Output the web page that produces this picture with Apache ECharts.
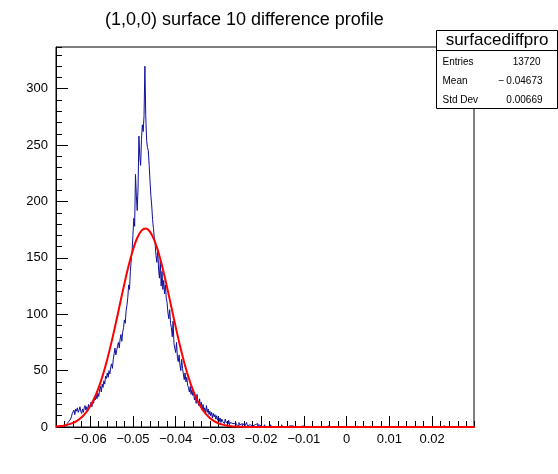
<!DOCTYPE html>
<html>
<head>
<meta charset="utf-8">
<script src="https://cdn.jsdelivr.net/npm/echarts@6/dist/echarts.min.js"></script>
<style>
  html, body { margin: 0; padding: 0; background: #fff; }
  #chart { width: 558px; height: 474px; }
</style>
</head>
<body>
<div id="chart"></div>
<script>
// ---------- DATA ----------
const chartTitle = '(1,0,0) surface 10 difference profile';
const histName = 'surfacediffpro';
const statLabels = ['Entries', 'Mean', 'Std Dev'];
const statValues = ['13720', '\u2212\u20090.04673', '0.00669'];

// histogram binning (bin width 0.0002, first bin low edge)
const binLow = -0.068;
const binWidth = 0.0002;

const countsLeft = [
  0,0,0,0,0,0,1,0,1,2,1,
  1,2,3,2,5,4,7,9,12,
  12,15,11,16,14,17,13,15,18,14,12,
  16,13,17,19,15,18,14,20,17,19,22,18,
  23,21,26,24,28,25,
  30,27,33,36,31,38,
  35,41,38,45,43,48,
  44,50,47,53,56,52,
  60,65,70,64,68,72,
  75,70,78,82,76,84,
  88,95,92,103,108,
  115,126,122,138,148,
  156,170,185,178,224,
  205,192,212
];
const countsPeak = [
  258,240,232,
  255,268,262,276,
  320,
  276,254,
  248,245,
  232,218,
  205,196,184,
  176,168,162
];
const countsRight = [
  152,146,158,140,
  132,148,125,138,
  122,130,118,126,114,
  110,101,96,104,92,
  88,80,94,74,
  70,66,75,62,
  58,64,55,50,60,52,
  47,42,48,40,44,37,
  35,31,36,29,33,28,
  30,24,27,21,29,22,19,25,
  18,22,15,20,14,17,12,19,13,16,11,14,
  10,13,8,12,9,11,7,10,
  6,9,5,8,4,7,5,6,3,7,
  4,5,3,6,2,4,5,3,4,2,3,5
];
const countsTail = [
  2,3,1,4,2,2,3,1,2,3,1,2,4,1,2,2,1,3,1,2,0,2,1,1,3,0,2,1,1,2,
  1,0,1,2,0,1,0,1,1,0,2,0,1,0,0,1,0,1,0,0,1,0,0,2,0,1,0,0,1,0,0,0,1,0,0,1,0,0,0,1,
  0,0,1,0,0,0,0,1,0,0,0,0,0,0,1,0,0,0,0,0,
  0,0,0,0,1,0,0,0,0,0,0,0,0,0,0,0,0,1,0,0,
  0,0,0,0,0,0,0,0,1,0,0,0,0,0,0,0,0,0,0,0,
  0,0,0,0,0,0,0,0,0,0,0,1,0,0,0,0,0,0,0,0,
  0,0,0,0,0,0,0,0,0,0,0,0,0,0,0,0,0,0,1,0,
  0,0,0,0,0,0,0,0,0,0,0,0,0,0,0,0,0,0,0,0,
  0,0,0,0,0,1,0,0,0,0,0,0,0,0,0,0,0,0,0,0,
  0,0,0,0,0,0,0,0,0,0,0,0,0,0,0,0,0,0,0,0,
  0,0,0,0,0,0,0,0,0,0,0,0,1,0,0,0,0,0,0,0,
  0,0,0,0,0,0,0,0,0,0,0,0,0,0,0,0,0,0,0,0,
  0,0,0,0,0,0,0,0
];

// gaussian fit curve, every 0.001
const fitLow = -0.068;
const fitStep = 0.001;
const fitValues = [
  0.5,0.8,1.4,2.3,3.7,5.7,8.7,12.8,18.4,25.7,
  35.1,46.6,60.1,75.5,92.2,109.7,127.1,143.2,157.0,167.6,
  174.1,176.0,173.1,165.8,154.5,140.1,123.7,106.2,88.8,72.3,
  57.2,44.1,33.1,24.1,17.1,11.8,8.0,5.2,3.3,2.1,
  1.3,0.7,0.4,0.2,0.1,0,0,0,0,0,
  0,0,0,0,0,0,0,0,0,0,
  0,0,0,0,0,0,0,0,0,0,
  0,0,0,0,0,0,0,0,0,0,
  0,0,0,0,0,0,0,0,0,0,
  0,0,0,0,0,0,0,0,0
];

// axes
const xMin = -0.068, xMax = 0.0298;
const yMin = 0, yMax = 337;
const xTickValues = [-0.06, -0.05, -0.04, -0.03, -0.02, -0.01, 0, 0.01, 0.02];
const xMinorStep = 0.002;
const yMajorStep = 50;
const yMinorStep = 10;

// ---------- BUILD ----------
const counts = countsLeft.concat(countsPeak, countsRight, countsTail);
const histData = counts.map((c, i) => [binLow + i * binWidth, c]);
histData.push([binLow + counts.length * binWidth, counts[counts.length - 1]]);
const fitData = fitValues.map((v, i) => [fitLow + i * fitStep, v]);

const FONT = '"Liberation Sans", Arial, Helvetica, sans-serif';
const fmtX = v => {
  if (Math.abs(v) < 1e-9) return '0';
  return (v < 0 ? '\u2212' : '') + Math.abs(v).toFixed(2);
};

const chart = echarts.init(document.getElementById('chart'), null, { renderer: 'canvas' });

const gridL = 56, gridT = 47, gridR = 84, gridB = 47;

chart.setOption({
  animation: false,
  backgroundColor: '#ffffff',
  title: {
    text: chartTitle,
    left: 100, top: 6,
    textStyle: { fontFamily: FONT, fontSize: 18, fontWeight: 'normal', color: '#000' }
  },
  grid: {
    left: gridL, top: gridT, right: gridR, bottom: gridB,
    show: true, borderColor: '#000', borderWidth: 1, backgroundColor: 'transparent'
  },
  xAxis: [
    {
      type: 'value', position: 'bottom', min: xMin, max: xMax,
      axisLine: { show: true, onZero: false, lineStyle: { color: '#000', width: 1 } },
      axisTick: { show: true, inside: true, length: 11, customValues: xTickValues, lineStyle: { color: '#000' } },
      axisLabel: { show: true, customValues: xTickValues, formatter: fmtX, margin: 6,
        fontFamily: FONT, fontSize: 13, color: '#000' },
      splitLine: { show: false }
    },
    {
      type: 'value', position: 'bottom', min: xMin, max: xMax, interval: xMinorStep,
      axisLine: { show: false, onZero: false },
      axisTick: { show: true, inside: true, length: 6, lineStyle: { color: '#000' } },
      axisLabel: { show: false },
      splitLine: { show: false }
    }
  ],
  yAxis: [
    {
      type: 'value', position: 'left', min: yMin, max: yMax, interval: yMajorStep,
      axisLine: { show: true, onZero: false, lineStyle: { color: '#000', width: 1 } },
      axisTick: { show: true, inside: true, length: 12, lineStyle: { color: '#000' } },
      axisLabel: { show: true, showMaxLabel: false, margin: 8, fontFamily: FONT, fontSize: 13, color: '#000' },
      splitLine: { show: false }
    },
    {
      type: 'value', position: 'left', min: yMin, max: yMax, interval: yMinorStep,
      axisLine: { show: false, onZero: false },
      axisTick: { show: true, inside: true, length: 6, lineStyle: { color: '#000' } },
      axisLabel: { show: false },
      splitLine: { show: false }
    }
  ],
  series: [
    {
      name: histName, type: 'line', xAxisIndex: 0, yAxisIndex: 0,
      data: histData, step: 'end', showSymbol: false, symbol: 'none',
      lineStyle: { color: '#10109c', width: 1 }, z: 3
    },
    {
      name: 'fit', type: 'line', xAxisIndex: 0, yAxisIndex: 0,
      data: fitData, smooth: 0.35, showSymbol: false, symbol: 'none',
      lineStyle: { color: '#ff0000', width: 2 }, z: 4
    }
  ],
  graphic: [
    {
      type: 'group', left: 434, top: 30, z: 100,
      children: [
        { type: 'rect', shape: { x: 0, y: 0, width: 121, height: 78 },
          style: { fill: '#fff', stroke: '#000', lineWidth: 1 } },
        { type: 'line', shape: { x1: 0, y1: 20, x2: 121, y2: 20 }, style: { stroke: '#000', lineWidth: 1 } },
        { type: 'text', x: 60.5, y: 10,
          style: { text: histName, fill: '#000', font: '17px ' + FONT, textAlign: 'center', textVerticalAlign: 'middle' } },
        { type: 'text', x: 6, y: 32, style: { text: statLabels[0], fill: '#000', font: '10px ' + FONT, textVerticalAlign: 'middle' } },
        { type: 'text', x: 6, y: 51, style: { text: statLabels[1], fill: '#000', font: '10px ' + FONT, textVerticalAlign: 'middle' } },
        { type: 'text', x: 6, y: 70, style: { text: statLabels[2], fill: '#000', font: '10px ' + FONT, textVerticalAlign: 'middle' } },
        { type: 'text', x: 104, y: 32, style: { text: statValues[0], fill: '#000', font: '10px ' + FONT, textAlign: 'right', textVerticalAlign: 'middle' } },
        { type: 'text', x: 106, y: 51, style: { text: statValues[1], fill: '#000', font: '10px ' + FONT, textAlign: 'right', textVerticalAlign: 'middle' } },
        { type: 'text', x: 106, y: 70, style: { text: statValues[2], fill: '#000', font: '10px ' + FONT, textAlign: 'right', textVerticalAlign: 'middle' } }
      ]
    }
  ]
});
</script>
</body>
</html>
